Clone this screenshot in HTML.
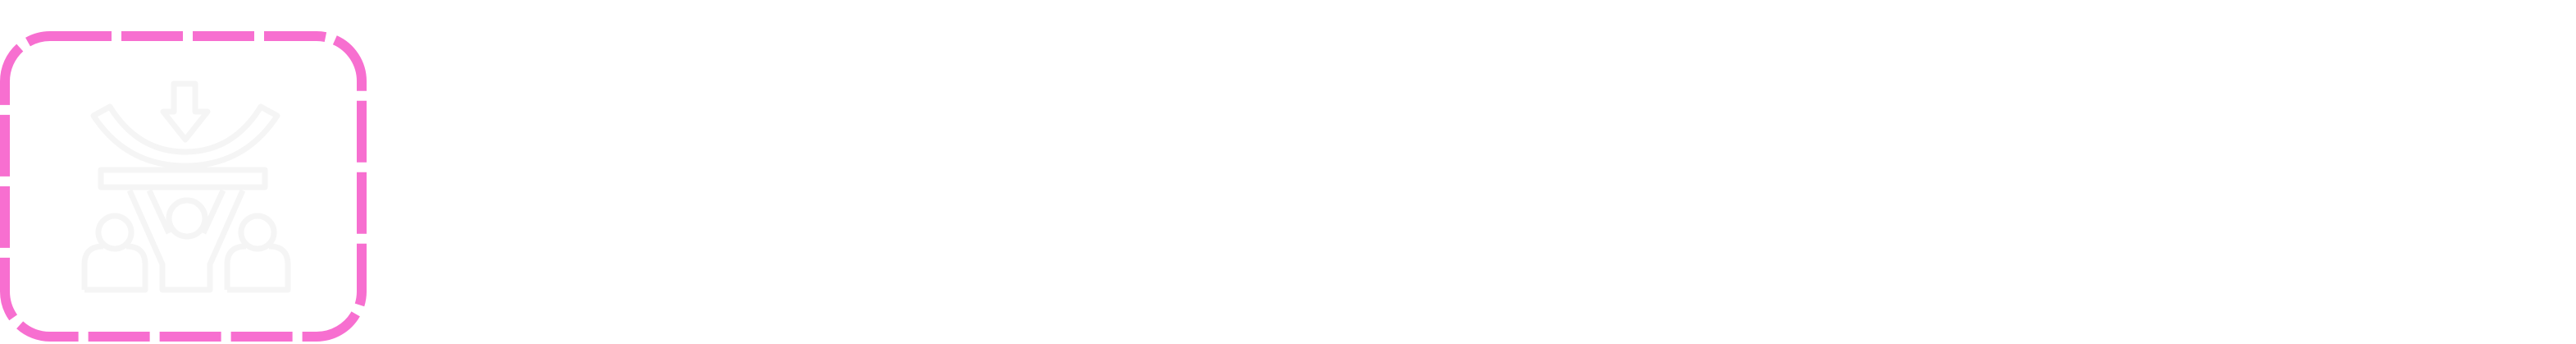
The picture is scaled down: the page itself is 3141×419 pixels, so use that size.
<!DOCTYPE html>
<html><head><style>html,body{margin:0;padding:0;background:#fff;width:3141px;height:419px;overflow:hidden}</style></head>
<body>
<svg width="3141" height="419" viewBox="0 0 3141 419" xmlns="http://www.w3.org/2000/svg">
<rect x="6" y="44" width="435" height="366" rx="55" ry="55" fill="none" stroke="#f76fd0" stroke-width="12" stroke-dasharray="75 12"/>
<g fill="none" stroke="#f5f5f5" stroke-width="7" stroke-linejoin="round">
<path d="M212 102 H238 V136 H253 L226 170 L199 136 H212 Z"/>
<path d="M114 141 L134 130 Q168 185 226 185 Q284 185 318 130 L338 141 Q298 202 226 202 Q154 202 114 141 Z"/>
<rect x="123" y="207" width="200" height="21"/>
<path d="M158 232 L198 322 V353 H256 V322 L296 232"/>
<path d="M182 232 L206 284 M272 232 L248 284"/>
<circle cx="228" cy="266" r="22"/>
<circle cx="140" cy="283" r="20"/>
<path d="M103 353 V322 Q103 300 126 300 M154 300 Q177 300 177 322 V353 H103"/>
<circle cx="314" cy="283" r="20"/>
<path d="M277 353 V322 Q277 300 300 300 M328 300 Q351 300 351 322 V353 H277"/>
</g>
</svg>
</body></html>
